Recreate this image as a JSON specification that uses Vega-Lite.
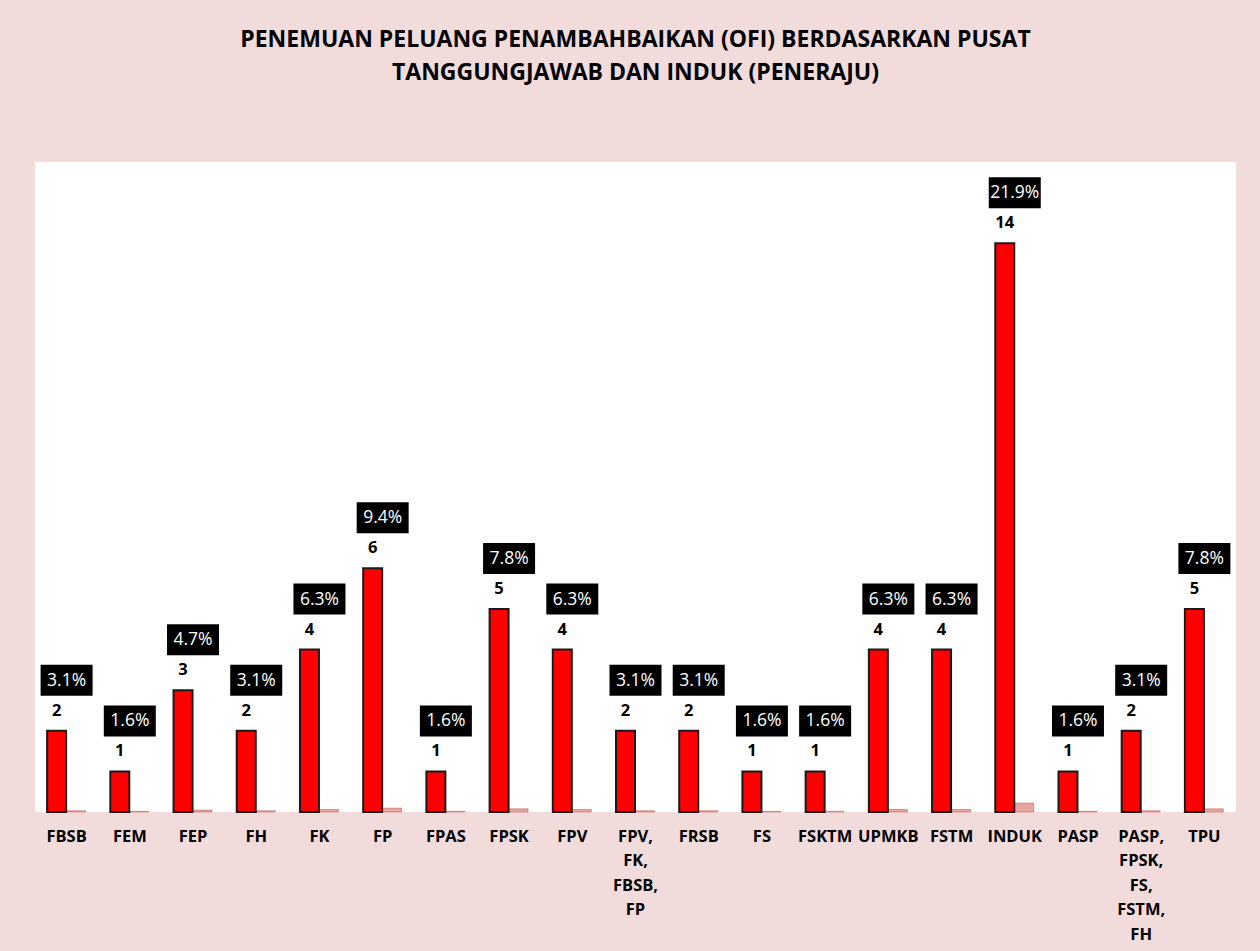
{
  "$schema": "https://vega.github.io/schema/vega-lite/v6.json",
  "autosize": {"type": "none"},
  "padding": {"left": 35, "top": 162, "right": 24, "bottom": 139},
  "width": 1201,
  "height": 650,
  "background": "#F2DCDB",
  "config": {
    "view": {"fill": "white", "stroke": null},
    "font": "Open Sans"
  },
  "title": {
    "text": ["PENEMUAN PELUANG PENAMBAHBAIKAN (OFI) BERDASARKAN PUSAT", "TANGGUNGJAWAB DAN INDUK (PENERAJU)"],
    "anchor": "middle",
    "font": "Open Sans",
    "fontSize": 23,
    "fontWeight": "bold",
    "color": "black",
    "lineHeight": 33,
    "baseline": "bottom",
    "offset": 54
  },
  "data": {
    "values": [
      {"unit": "FBSB", "n": 2, "p": 0.031},
      {"unit": "FEM", "n": 1, "p": 0.016},
      {"unit": "FEP", "n": 3, "p": 0.047},
      {"unit": "FH", "n": 2, "p": 0.031},
      {"unit": "FK", "n": 4, "p": 0.063},
      {"unit": "FP", "n": 6, "p": 0.094},
      {"unit": "FPAS", "n": 1, "p": 0.016},
      {"unit": "FPSK", "n": 5, "p": 0.078},
      {"unit": "FPV", "n": 4, "p": 0.063},
      {"unit": "FPV, FK, FBSB, FP", "n": 2, "p": 0.031},
      {"unit": "FRSB", "n": 2, "p": 0.031},
      {"unit": "FS", "n": 1, "p": 0.016},
      {"unit": "FSKTM", "n": 1, "p": 0.016},
      {"unit": "UPMKB", "n": 4, "p": 0.063},
      {"unit": "FSTM", "n": 4, "p": 0.063},
      {"unit": "INDUK", "n": 14, "p": 0.219},
      {"unit": "PASP", "n": 1, "p": 0.016},
      {"unit": "PASP, FPSK, FS, FSTM, FH", "n": 2, "p": 0.031},
      {"unit": "TPU", "n": 5, "p": 0.078}
    ]
  },
  "encoding": {
    "x": {
      "field": "unit",
      "type": "nominal",
      "sort": null,
      "scale": {"paddingInner": 0, "paddingOuter": 0},
      "axis": {
        "title": null,
        "labelAngle": 0,
        "ticks": false,
        "domain": false,
        "labelPadding": 16,
        "labelFont": "Open Sans",
        "labelFontSize": 16.5,
        "labelFontWeight": "bold",
        "labelColor": "black",
        "labelLineHeight": 24.5,
        "labelBaseline": "top",
        "labelLimit": 0,
        "labelExpr": "split(replace(datum.label, regexp(', ', 'g'), ',~'), '~')"
      }
    }
  },
  "layer": [
    {
      "mark": {"type": "bar", "width": 19, "xOffset": 9.5, "color": "#E6A6A4", "stroke": "#C0504D", "strokeWidth": 0.5},
      "encoding": {
        "y": {"field": "p", "type": "quantitative", "scale": {"domain": [0, 16], "nice": false, "zero": true}, "axis": null}
      }
    },
    {
      "mark": {"type": "bar", "width": 19, "xOffset": -10, "color": "#FF0000", "stroke": "#1a1a1a", "strokeWidth": 2},
      "encoding": {
        "y": {"field": "n", "type": "quantitative"}
      }
    },
    {
      "mark": {"type": "text", "dx": -10, "dy": -15, "baseline": "alphabetic", "font": "Open Sans", "fontSize": 16.5, "fontWeight": "bold", "color": "black"},
      "encoding": {
        "y": {"field": "n", "type": "quantitative"},
        "text": {"field": "n", "type": "quantitative"}
      }
    },
    {
      "mark": {"type": "bar", "width": 52, "yOffset": -66, "y2Offset": -35, "color": "black"},
      "encoding": {
        "y": {"field": "n", "type": "quantitative"},
        "y2": {"field": "n"}
      }
    },
    {
      "mark": {"type": "text", "dy": -50, "baseline": "middle", "font": "Open Sans", "fontSize": 17.5, "color": "white"},
      "encoding": {
        "y": {"field": "n", "type": "quantitative"},
        "text": {"field": "p", "type": "quantitative", "format": ".1%"}
      }
    }
  ]
}
